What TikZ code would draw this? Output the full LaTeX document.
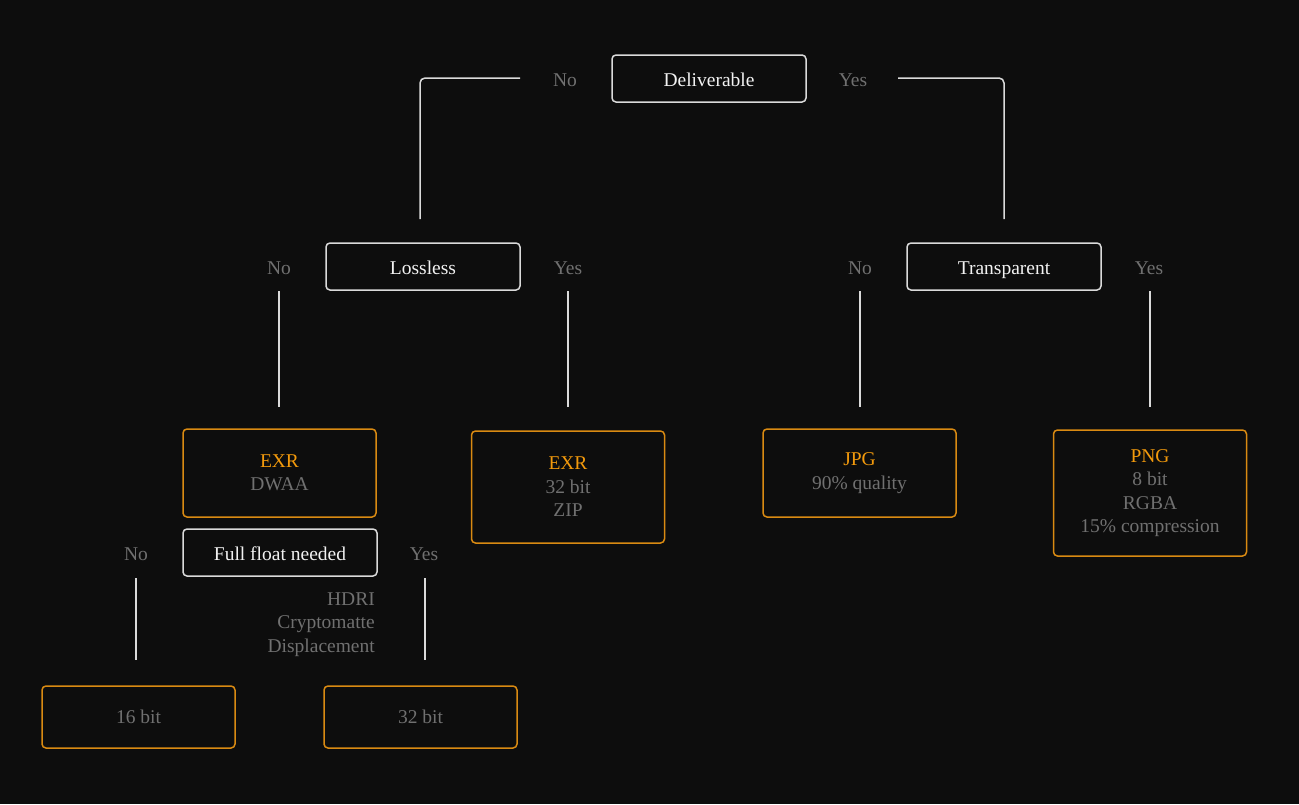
\documentclass[tikz,border=0pt]{standalone}
\usepackage{fontspec}
\setmainfont{Liberation Serif}
\definecolor{bg}{HTML}{0D0D0D}
\definecolor{orangeline}{HTML}{D98A12}
\definecolor{orangetext}{HTML}{F39A0C}
\definecolor{graytext}{HTML}{707070}
\definecolor{whitetext}{HTML}{F2F2F2}
\definecolor{whiteline}{HTML}{DADADA}
\begin{document}
\begin{tikzpicture}[x=1pt,y=-1pt,
  font=\fontsize{19.5}{23.5}\selectfont,
  decision/.style={draw=whiteline, line width=1.5pt, rounded corners=4pt, minimum width=194pt, minimum height=47pt, text=whitetext, inner sep=0pt, text height=15pt, text depth=0pt},
  result/.style={draw=orangeline, line width=1.5pt, rounded corners=4pt, minimum width=193pt, text=graytext, align=center, inner sep=0pt},
  lbl/.style={text=graytext, inner sep=1pt, text height=15pt, text depth=0pt},
  conn/.style={draw=whiteline, line width=1.5pt, rounded corners=5pt}]
\fill[bg] (0,0) rectangle (1299,804);
\useasboundingbox (0,0) rectangle (1299,804);

% decisions
\node[decision] (deliv) at (709,78.5) {Deliverable};
\node[decision] (lossless) at (423,266.5) {Lossless};
\node[decision] (transp) at (1004,266.5) {Transparent};
\node[decision] (full) at (280,552.5) {Full float needed};

% labels
\node[lbl] (dNo) at (565,79) {No};
\node[lbl] (dYes) at (853,79) {Yes};
\node[lbl] (lNo) at (279,267) {No};
\node[lbl] (lYes) at (568,267) {Yes};
\node[lbl] (tNo) at (860,267) {No};
\node[lbl] (tYes) at (1149,267) {Yes};
\node[lbl] (fNo) at (136,553) {No};
\node[lbl] (fYes) at (424,553) {Yes};
\node[text=graytext, inner sep=1pt, align=right, anchor=east] (notes) at (376,624.5) {HDRI\\Cryptomatte\\Displacement};

% results
\node[result, minimum height=88pt] (exrdwaa) at (279.5,473) {{\color{orangetext}EXR}\\DWAA};
\node[result, minimum height=112pt] (exrzip) at (568,487) {{\color{orangetext}EXR}\\32 bit\\ZIP};
\node[result, minimum height=88pt] (jpg) at (859.5,473) {{\color{orangetext}JPG}\\90\% quality};
\node[result, minimum height=126pt] (png) at (1150,493) {{\color{orangetext}PNG}\\8 bit\\RGBA\\15\% compression};
\node[result, minimum height=62pt] (b16) at (138.5,717) {16 bit};
\node[result, minimum height=62pt] (b32) at (420.5,717) {32 bit};

% connector endpoints
\coordinate (c1s) at (520,78);
\coordinate (c1e) at (420,219);
\coordinate (c2s) at (898,78);
\coordinate (c2e) at (1004,219);
\coordinate (c3s) at (279,291);
\coordinate (c3e) at (279,407);
\coordinate (c4s) at (568,291);
\coordinate (c4e) at (568,407);
\coordinate (c5s) at (860,291);
\coordinate (c5e) at (860,407);
\coordinate (c6s) at (1150,291);
\coordinate (c6e) at (1150,407);
\coordinate (c7s) at (136,578);
\coordinate (c7e) at (136,660);
\coordinate (c8s) at (425,578);
\coordinate (c8e) at (425,660);

\draw[conn] (c1s) -| (c1e);
\draw[conn] (c2s) -| (c2e);
\draw[conn] (c3s) -- (c3e);
\draw[conn] (c4s) -- (c4e);
\draw[conn] (c5s) -- (c5e);
\draw[conn] (c6s) -- (c6e);
\draw[conn] (c7s) -- (c7e);
\draw[conn] (c8s) -- (c8e);
\end{tikzpicture}
\end{document}
